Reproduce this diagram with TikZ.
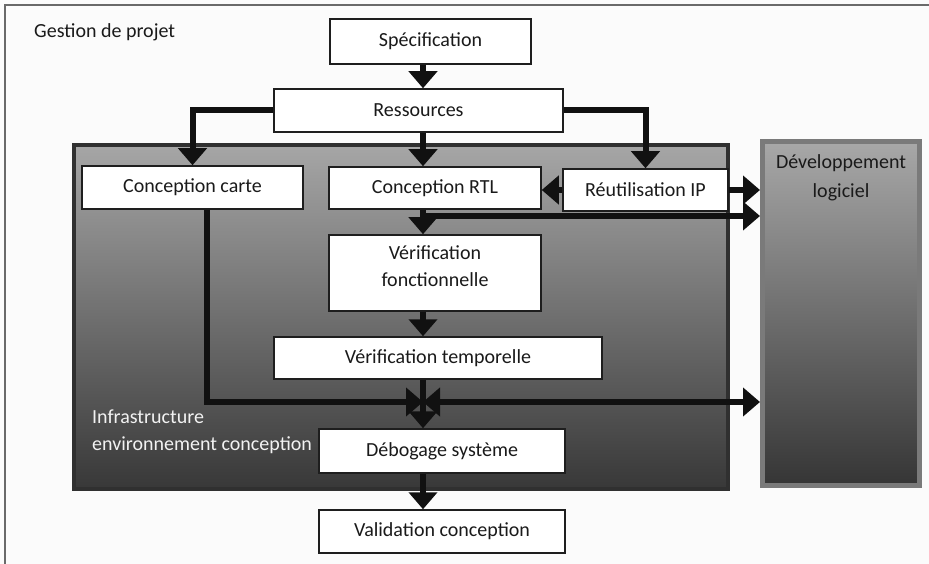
\documentclass[tikz,border=0pt]{standalone}
\usepackage{fontspec}
\setmainfont{Carlito}
\usetikzlibrary{arrows.meta}
\definecolor{bgc}{HTML}{FBFBFB}
\definecolor{framec}{HTML}{6A6A6A}
\definecolor{boxc}{HTML}{1E1E1E}
\definecolor{arr}{HTML}{111111}
\definecolor{txt}{HTML}{1A1A1A}
\definecolor{infratop}{HTML}{A6A6A6}
\definecolor{infrabot}{HTML}{383838}
\definecolor{infraborder}{HTML}{303030}
\definecolor{devtop}{HTML}{A8A8A8}
\definecolor{devbot}{HTML}{353535}
\definecolor{devborder}{HTML}{7A7A7A}
\definecolor{lighttxt}{HTML}{F2F2F2}
\begin{document}
\begin{tikzpicture}[x=1pt,y=-1pt,
  lbl/.style={font=\fontsize{20}{27}\selectfont, text=txt, inner sep=0pt},
  box/.style={lbl, draw=boxc, line width=1.5pt, fill=white, align=center},
  conn/.style={draw=arr, line width=6pt, -{Triangle[width=28pt,length=17pt]}},
  dconn/.style={draw=arr, line width=6pt, {Triangle[width=28pt,length=17pt]}-{Triangle[width=28pt,length=17pt]}},
]
\useasboundingbox (0,0) rectangle (929,564);
\fill[bgc] (0,0) rectangle (929,564);
\draw[framec, line width=2pt] (5,570) -- (5,5) -- (935,5);

% containers
\node[draw=infraborder, line width=4pt, top color=infratop, bottom color=infrabot,
      minimum width=654pt, minimum height=344pt, inner sep=0pt] (infra) at (401,317) {};
\node[draw=devborder, line width=5pt, top color=devtop, bottom color=devbot,
      minimum width=157pt, minimum height=344pt, inner sep=0pt] (dev) at (841,313.5) {};

% labels
\node[lbl, anchor=base west] (gest) at (34,38) {Gestion de projet};
\node[lbl, align=center] (devt) at (841,178) {Développement\\[2pt]logiciel};
\node[lbl, align=left, anchor=west, text=lighttxt] (inft) at (92,432) {Infrastructure\\environnement conception};

% boxes
\node[box, minimum width=201pt, minimum height=45pt] (spec) at (430.5,41.5) {Spécification};
\node[box, minimum width=289pt, minimum height=43pt] (res) at (418.5,110.5) {Ressources};
\node[box, minimum width=221pt, minimum height=43pt] (carte) at (192.5,187.5) {Conception carte};
\node[box, minimum width=212pt, minimum height=42pt] (rtl) at (435,188) {Conception RTL};
\node[box, minimum width=165pt, minimum height=42pt] (reuse) at (645.5,190) {Réutilisation IP};
\node[box, minimum width=212pt, minimum height=76pt, text depth=14pt] (vfonc) at (435,273) {Vérification\\fonctionnelle};
\node[box, minimum width=328pt, minimum height=42pt] (vtemp) at (438,358) {Vérification temporelle};
\node[box, minimum width=246pt, minimum height=44pt] (debog) at (442,451) {Débogage système};
\node[box, minimum width=246pt, minimum height=43pt] (valid) at (442,531.5) {Validation conception};

% helper coordinates
\coordinate (sp) at (423,0);
\coordinate (cl) at (207,0);
\coordinate (jn) at (423,402);
\coordinate (br) at (423,216);

% connectors
\draw[conn] (spec.south -| sp) -- (res.north -| sp);
\draw[conn] (res.west) -| (carte.north);
\draw[conn] (res.south -| sp) -- (rtl.north -| sp);
\draw[conn] (res.east) -| (reuse.north);
\draw[conn] (reuse.west) -- (reuse.west -| rtl.east);
\draw[conn] (reuse.east) -- (reuse.east -| dev.west);
\draw[conn] (rtl.south -| sp) -- (vfonc.north -| sp);
\draw[conn] (br) -- (br -| dev.west);
\draw[conn] (vfonc.south -| sp) -- (vtemp.north -| sp);
\draw[conn] (vtemp.south -| sp) -- (debog.north -| sp);
\draw[conn] (carte.south -| cl) |- (jn);
\draw[dconn] (jn) -- (jn -| dev.west);
\draw[conn] (debog.south -| sp) -- (valid.north -| sp);
\end{tikzpicture}
\end{document}
